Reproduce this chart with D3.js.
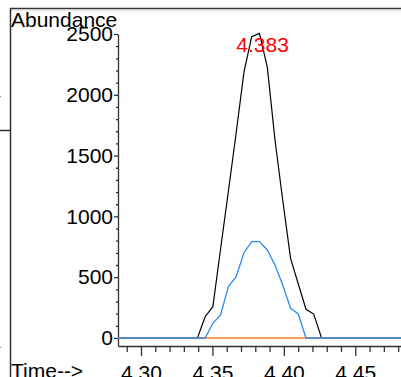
<!DOCTYPE html>
<html>
<head>
<meta charset="utf-8">
<script src="https://cdn.jsdelivr.net/npm/d3@7"></script>
<style>
  body { margin: 0; background: #fff; }
  svg { display: block; }
</style>
</head>
<body>
<svg width="401" height="377"></svg>
<script>
// scan times (min) and abundances
const times = [4.2800, 4.3395, 4.3449, 4.3503, 4.3557, 4.3612, 4.3666, 4.3721, 4.3775, 4.3829,
               4.3884, 4.3938, 4.3992, 4.4047, 4.4101, 4.4155, 4.4209, 4.4264, 4.4900];
const ticTrace = [0, 0, 175, 257, 732, 1209, 1686, 2188, 2478, 2505,
                  2229, 1628, 1135, 655, 444, 236, 197, 0, 0];
const ionTrace = [0, 0, 0, 121, 189, 422, 504, 701, 792, 792,
                  724, 600, 436, 244, 197, 0, 0, 0, 0];
const refTrace = times.map(() => 0);
const xMajor = [4.30, 4.35, 4.40, 4.45];
const yMajor = [0, 500, 1000, 1500, 2000, 2500];
const peakTime = 4.383;
const peakLabel = "4.383";

const svg = d3.select("svg");
const font = "'Liberation Sans', Arial, sans-serif";
const fs = 21;

const x = d3.scaleLinear().domain([4.2839, 4.482]).range([118, 401]);
const y = d3.scaleLinear().domain([-66, 2500]).range([346, 34]);

// frame
svg.append("line").attr("x1", 10).attr("x2", 401).attr("y1", 8.5).attr("y2", 8.5)
  .attr("stroke", "#333").attr("stroke-width", 1.5);
svg.append("line").attr("x1", 10).attr("x2", 401).attr("y1", 10).attr("y2", 10)
  .attr("stroke", "#ccc").attr("stroke-width", 1);
svg.append("line").attr("x1", 10.5).attr("x2", 10.5).attr("y1", 8).attr("y2", 377)
  .attr("stroke", "#333").attr("stroke-width", 1.5);
svg.append("line").attr("x1", 0).attr("x2", 10).attr("y1", 130.5).attr("y2", 130.5)
  .attr("stroke", "#333").attr("stroke-width", 1.5);
svg.append("rect").attr("x", 0).attr("y", 96).attr("width", 1).attr("height", 1).attr("fill", "#888");
svg.append("rect").attr("x", 0).attr("y", 347).attr("width", 1).attr("height", 1).attr("fill", "#888");

// y axis
svg.append("g").attr("transform", "translate(118,0)")
  .call(d3.axisLeft(y).tickValues(yMajor).tickSize(4).tickSizeOuter(0).tickPadding(1)
    .tickFormat(d3.format("d")));
svg.append("g").attr("transform", "translate(118,0)")
  .call(d3.axisLeft(y).tickValues(d3.range(0, 2500, 100).filter(v => v % 500)).tickSize(2).tickFormat(""))
  .call(g => g.select(".domain").remove());

// x axis
svg.append("g").attr("transform", "translate(0,346)")
  .call(d3.axisBottom(x).tickValues(xMajor).tickSize(10).tickSizeOuter(0).tickPadding(9)
    .tickFormat(d3.format(".2f")));
svg.append("g").attr("transform", "translate(0,346)")
  .call(d3.axisBottom(x).tickValues(d3.range(4.29, 4.485, 0.01).filter((v, i) => i % 5 !== 1)).tickSize(6).tickFormat(""))
  .call(g => g.select(".domain").remove());

svg.selectAll(".tick line, .domain").attr("stroke", "#333").attr("stroke-width", 1.3);
svg.selectAll(".tick text").attr("font-size", fs).attr("font-family", font).attr("fill", "#000");

// traces
const line = vals => d3.line().x((d, i) => x(times[i])).y(d => y(d))(vals);
svg.append("clipPath").attr("id", "clip").append("rect").attr("x", 118).attr("y", 0).attr("width", 283).attr("height", 346);
const plot = svg.append("g").attr("clip-path", "url(#clip)");
plot.append("path").attr("d", line(ticTrace)).attr("fill", "none").attr("stroke", "#000").attr("stroke-width", 1.2);
plot.append("path").attr("d", line(refTrace)).attr("fill", "none").attr("stroke", "#f08020").attr("stroke-width", 1.4);
plot.append("path").attr("d", line(ionTrace)).attr("fill", "none").attr("stroke", "#2a8cf0").attr("stroke-width", 1.3);

// labels
svg.append("text").attr("x", x(peakTime) + 3).attr("y", 52).attr("text-anchor", "middle")
  .attr("font-family", font).attr("font-size", fs).attr("fill", "#ff0000").text(peakLabel);
svg.append("text").attr("x", 11).attr("y", 27)
  .attr("font-family", font).attr("font-size", fs).attr("fill", "#000").text("Abundance");
svg.append("text").attr("x", 11).attr("y", 378)
  .attr("font-family", font).attr("font-size", fs).attr("fill", "#000").text("Time-->");
</script>
</body>
</html>
